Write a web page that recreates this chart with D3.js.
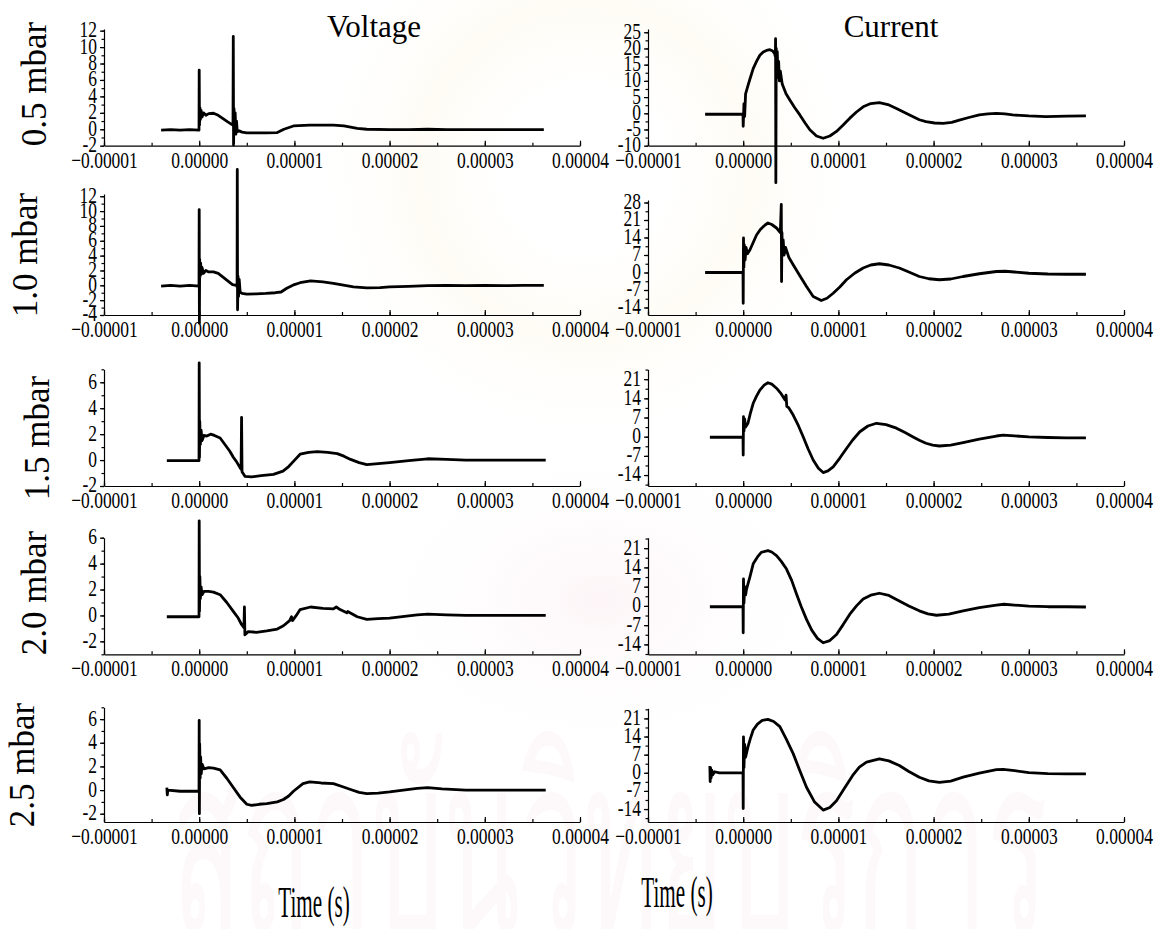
<!DOCTYPE html>
<html>
<head>
<meta charset="utf-8">
<script src="https://cdn.jsdelivr.net/npm/d3@7/dist/d3.min.js"></script>
<style>
    body { margin: 0; background: #fff; }
    svg { display: block; }
    text { font-family: "Liberation Serif", "Times New Roman", serif; fill: #000; }
</style>
</head>
<body>
<svg id="chart" width="1162" height="929"></svg>
<script>
    // time in microseconds, shown on the axis in seconds
    var timeTicks = [-10, 0, 10, 20, 30, 40];
    var pressures = ["0.5 mbar", "1.0 mbar", "1.5 mbar", "2.0 mbar", "2.5 mbar"];
    var columnTitles = ["Voltage", "Current"];

    // voltage traces [t (us), V]
    var voltage05 = [[-4, -0.1], [-3, -0.05], [-2, -0.1], [-1, -0.05], [-0.02, -0.1], [0, 7.2], [0.03, 0.5], [0.08, 2.6], [0.13, 1.2], [0.2, 2.3], [0.3, 1.5], [0.45, 2.0], [0.7, 1.7], [1.0, 1.9], [1.5, 1.95], [2.0, 1.7], [2.5, 1.3], [3.0, 0.9], [3.4, 0.6], [3.55, 0.5], [3.58, 11.3], [3.61, -1.9], [3.66, 2.5], [3.72, -0.6], [3.78, 2.0], [3.85, -0.6], [3.92, 1.0], [4.0, -0.3], [4.2, -0.2], [4.5, -0.35], [5, -0.45], [6, -0.45], [7, -0.45], [8.2, -0.4], [8.9, 0], [9.9, 0.4], [11.6, 0.5], [13, 0.5], [14.1, 0.5], [15.2, 0.4], [16.6, 0.1], [17.6, 0], [20, -0.05], [22, -0.05], [24, 0], [26, -0.05], [28, -0.05], [30, -0.05], [32, -0.05], [34, -0.05], [36.2, -0.05]];
    var voltage10 = [[-4, -0.1], [-3, 0], [-2, -0.1], [-1, 0], [-0.02, -0.1], [0, 10.2], [0.02, -5.1], [0.05, 3.5], [0.1, 1.2], [0.15, 3.0], [0.22, 1.5], [0.3, 2.4], [0.45, 1.6], [0.7, 2.0], [1.0, 1.8], [1.5, 1.8], [2.0, 1.6], [2.5, 1.1], [3.0, 0.6], [3.5, 0.1], [3.9, 0], [3.98, -0.2], [4.0, 15.6], [4.03, -3.3], [4.08, 1.2], [4.13, -1.5], [4.2, 0.8], [4.3, -0.9], [4.5, -1.1], [5, -1.2], [6, -1.15], [7, -1.1], [8, -1.0], [8.6, -0.9], [9.2, -0.4], [10, 0.1], [10.6, 0.35], [11.7, 0.6], [13, 0.45], [14.1, 0.25], [15, 0.05], [16.2, -0.2], [17.6, -0.35], [19, -0.3], [20, -0.2], [22, -0.15], [24, -0.05], [26, 0], [28, -0.05], [30, 0], [32, -0.05], [34, 0], [36.2, 0]];
    var voltage15 = [[-3.4, -0.05], [-2, -0.05], [-1, -0.05], [-0.02, -0.05], [0, 7.5], [0.03, 0.2], [0.06, 3.0], [0.12, 1.2], [0.2, 2.3], [0.3, 1.5], [0.5, 1.9], [0.8, 1.85], [1.2, 2.0], [1.6, 1.9], [2.2, 1.7], [2.7, 1.2], [3.2, 0.7], [3.6, 0.2], [3.9, -0.1], [4.3, -0.6], [4.4, -0.7], [4.45, 3.3], [4.5, -0.9], [4.8, -1.25], [5.5, -1.3], [6.5, -1.2], [7.8, -1.1], [8.8, -0.85], [9.4, -0.5], [9.9, -0.1], [10.6, 0.45], [11.5, 0.6], [12.4, 0.65], [13.5, 0.6], [14.5, 0.5], [15.2, 0.3], [15.9, 0.05], [16.8, -0.2], [17.6, -0.35], [18.5, -0.3], [20, -0.2], [22, -0.05], [24, 0.1], [26, 0.05], [28, 0], [30, 0], [32, 0], [34, 0], [36.4, 0]];
    var voltage20 = [[-3.4, -0.1], [-2, -0.1], [-1, -0.1], [-0.02, -0.1], [0, 7.3], [0.03, 0.3], [0.07, 3.0], [0.12, 1.3], [0.2, 2.2], [0.3, 1.6], [0.5, 1.85], [1.0, 1.85], [1.5, 1.8], [2.2, 1.6], [2.9, 1.0], [3.6, 0.3], [4.1, -0.2], [4.45, -0.7], [4.7, -0.95], [4.75, 0.65], [4.8, -1.5], [5.15, -1.25], [6, -1.3], [7.1, -1.2], [8.2, -1.05], [8.85, -0.8], [9.5, -0.4], [9.7, -0.1], [9.8, -0.4], [10.2, 0], [10.6, 0.45], [11.7, 0.65], [13, 0.55], [14.1, 0.5], [14.4, 0.65], [14.8, 0.45], [15.5, 0.2], [15.6, 0.3], [16.6, -0.1], [17.6, -0.3], [18.8, -0.25], [20, -0.2], [22.9, 0.05], [24, 0.1], [26, 0.05], [28, 0], [30, 0], [32, 0], [34, 0], [36.4, 0]];
    var voltage25 = [[-3.4, 0.2], [-3.35, -0.4], [-3.3, 0], [-2, -0.1], [-1, -0.1], [-0.02, -0.1], [0, 5.9], [0.02, -2.0], [0.05, 3.9], [0.1, 1.0], [0.15, 2.8], [0.22, 1.4], [0.3, 2.2], [0.5, 1.8], [1.0, 1.9], [1.5, 1.85], [2.2, 1.7], [2.9, 1.0], [3.6, 0.2], [4.3, -0.6], [5, -1.2], [5.5, -1.3], [6.3, -1.2], [7.1, -1.15], [8.2, -1.0], [8.85, -0.8], [9.4, -0.5], [9.9, -0.1], [10.9, 0.55], [11.6, 0.7], [12.8, 0.6], [14.1, 0.55], [15, 0.3], [15.9, 0.05], [16.8, -0.2], [17.6, -0.3], [18.8, -0.25], [20, -0.15], [22.9, 0.15], [24, 0.2], [25.5, 0.1], [28, 0], [30, 0], [32, 0], [34, 0], [36.4, 0]];

    // current traces [t (us), I]
    var current05 = [[-4, -0.3], [-3, -0.3], [-2, -0.3], [-1, -0.3], [-0.02, -0.3], [0, -4], [0.08, 3], [0.15, -1], [0.25, 6], [0.35, 7], [0.5, 8.5], [0.7, 10.5], [1.05, 13.8], [1.4, 16], [1.75, 17.9], [2.1, 18.9], [2.45, 19.4], [2.8, 19.6], [3.1, 19.2], [3.3, 18.4], [3.38, 17.5], [3.4, 23], [3.43, -21.4], [3.47, 20], [3.52, 12], [3.58, 19], [3.65, 11], [3.72, 16], [3.8, 10], [3.9, 13], [4.1, 9], [4.5, 6], [4.9, 4.1], [5.4, 1.8], [5.95, -0.5], [6.5, -3], [7, -5.1], [7.7, -7], [8.4, -7.7], [9.1, -7], [9.8, -5.6], [10.5, -3.6], [11.2, -1.5], [11.9, 0.4], [12.6, 2.0], [13.4, 3.0], [14.3, 3.3], [15.2, 2.7], [16.1, 1.5], [17, 0.2], [17.8, -1], [18.5, -2], [19.2, -2.6], [20.1, -3], [21, -3.1], [21.9, -2.8], [22.7, -2.1], [23.7, -1.3], [24.8, -0.5], [25.7, -0.2], [26.6, 0], [27.5, -0.2], [28.3, -0.5], [30, -0.8], [31.8, -1], [34, -0.9], [36, -0.8]];
    var current10 = [[-4, 0], [-3, 0], [-2, 0], [-1, 0], [-0.02, 0], [0, -12.3], [0.03, 13.8], [0.07, 2], [0.12, 11], [0.2, 5], [0.3, 10], [0.45, 7.5], [0.7, 9], [1.05, 12], [1.4, 15], [1.8, 17.2], [2.3, 19], [2.6, 19.8], [3.0, 19.2], [3.5, 17.8], [3.9, 16], [4.0, 27.2], [4.03, -3.6], [4.07, 16], [4.12, 8], [4.2, 13], [4.3, 7], [4.45, 10], [4.8, 6], [5.25, 3.1], [5.95, -1.3], [6.65, -5.6], [7.35, -9.6], [8.2, -11.2], [8.8, -10.3], [9.45, -8.3], [10.15, -5.8], [10.85, -2.9], [11.7, -0.3], [12.6, 1.8], [13.4, 3.0], [14.3, 3.5], [15.3, 3.0], [16.4, 1.8], [17.4, 0.2], [18.5, -1.6], [19.5, -2.5], [20.6, -2.9], [21.8, -2.6], [23.1, -1.6], [24.8, -0.5], [26.6, 0.4], [27.5, 0.5], [28.5, 0.2], [30, -0.3], [32, -0.6], [34, -0.7], [36, -0.7]];
    var current15 = [[-3.5, -0.2], [-2, -0.2], [-1, -0.2], [-0.02, -0.2], [0, -6.7], [0.03, 7.3], [0.08, 2], [0.15, 6.5], [0.25, 3.5], [0.5, 4.9], [0.75, 8.5], [1.05, 12.2], [1.4, 14.8], [1.75, 17], [2.2, 18.8], [2.6, 19.7], [3.0, 19.2], [3.5, 17.7], [4.0, 15.6], [4.4, 13.4], [4.5, 15.2], [4.58, 11.1], [4.8, 10.5], [5.25, 7.9], [5.8, 4], [6.3, 0], [6.8, -4.3], [7.35, -8.5], [7.9, -11.5], [8.4, -13.1], [8.9, -12.5], [9.45, -11], [10.15, -7.8], [10.85, -4.3], [11.5, -1.2], [12.25, 1.8], [13.1, 3.9], [14, 4.9], [15, 4.4], [16.1, 3.1], [17, 1.5], [17.8, 0], [18.5, -1.3], [19.2, -2.4], [19.9, -3.1], [20.6, -3.4], [21.8, -3.1], [23.1, -2.2], [24.8, -0.9], [26.6, 0.25], [27.3, 0.6], [28.5, 0.3], [30, -0.1], [32, -0.3], [34, -0.4], [36, -0.4]];
    var current20 = [[-3.5, -0.3], [-2, -0.3], [-1, -0.3], [-0.02, -0.3], [0, -9.8], [0.03, 9.8], [0.08, 1], [0.15, 7], [0.25, 4], [0.35, 6.1], [0.7, 10.5], [1.05, 15.3], [1.5, 17.8], [1.9, 19.5], [2.6, 20.1], [3.0, 19.6], [3.5, 18.3], [4.0, 16.2], [4.55, 13.4], [5.1, 9.2], [5.6, 4.3], [6.1, -0.3], [6.65, -4.9], [7.2, -8.8], [7.8, -11.8], [8.4, -13.4], [9.1, -12.6], [9.8, -10.4], [10.5, -6.8], [11.2, -3], [11.9, 0], [12.6, 2.5], [13.4, 3.9], [14.3, 4.6], [15.3, 3.8], [16.4, 1.8], [17.4, 0], [18.5, -1.8], [19.4, -2.9], [20.3, -3.4], [21.6, -3], [23.1, -1.8], [24.8, -0.6], [26.6, 0.25], [27.4, 0.6], [28.5, 0.3], [30, -0.1], [32, -0.3], [34, -0.3], [36, -0.4]];
    var current25 = [[-3.5, 2.6], [-3.47, -3.4], [-3.42, 1.8], [-3.37, -2], [-3.3, 1], [-3.2, -0.8], [-3.0, 0.4], [-2.5, 0], [-1, 0], [-0.02, 0], [0, -13.8], [0.03, 13.9], [0.08, 2], [0.15, 11], [0.25, 6], [0.5, 10], [0.75, 13.2], [1.05, 16.5], [1.5, 18.8], [2.0, 20.2], [2.6, 20.6], [3.2, 19.8], [3.85, 17.8], [4.5, 13.2], [5.25, 7.4], [5.95, 0.8], [6.65, -5.6], [7.5, -11.3], [8.4, -14.4], [9.1, -13.4], [9.8, -10.8], [10.6, -6.2], [11.5, -1], [12.2, 2.2], [12.95, 4.1], [14.3, 5.4], [15.3, 4.6], [16.4, 2.8], [17.4, 0.5], [18.5, -1.7], [19.5, -3.1], [20.6, -3.7], [21.8, -3.2], [23.1, -1.7], [24.8, -0.1], [26.6, 1.2], [27.3, 1.3], [28.5, 0.8], [30, 0.1], [32, -0.3], [34, -0.4], [36, -0.4]];

    var voltageTraces = [voltage05, voltage10, voltage15, voltage20, voltage25];
    var currentTraces = [current05, current10, current15, current20, current25];

    // axis ranges and steps per row
    var voltageDomains = [[-2, 12.2], [-4, 12.3], [-2, 7], [-3, 6], [-2.7, 7]];
    var currentDomains = [[-10, 26], [-17, 29], [-18, 24.6], [-17.6, 24.8], [-19, 24.9]];
    var voltageSteps = [2, 2, 2, 2, 2];
    var currentSteps = [5, 7, 7, 7, 7];

    // layout (pixels)
    var leftX = [104, 580], rightX = [648, 1124];
    var voltageRanges = [[145.7, 29], [315, 194], [486, 369.3], [654.3, 537.7], [822, 707.3]];
    var currentRanges = [[145.7, 29], [315, 200], [486, 369.3], [654.3, 537.7], [822, 708.3]];
    var rowLabelPos = [[34, 84], [25, 255], [37, 438], [34, 593], [22, 765]];

    var svg = d3.select("#chart");

    // faint background watermark
    var defs = svg.append("defs");
    var glow = defs.append("radialGradient").attr("id", "glow");
    glow.append("stop").attr("offset", "0%").attr("stop-color", "#ffffff");
    glow.append("stop").attr("offset", "30%").attr("stop-color", "#ffffff");
    glow.append("stop").attr("offset", "60%").attr("stop-color", "#fefcf5");
    glow.append("stop").attr("offset", "100%").attr("stop-color", "#ffffff").attr("stop-opacity", 0);
    var pink = defs.append("radialGradient").attr("id", "pink");
    pink.append("stop").attr("offset", "0%").attr("stop-color", "#fdf5f7");
    pink.append("stop").attr("offset", "100%").attr("stop-color", "#ffffff").attr("stop-opacity", 0);
    svg.append("circle").attr("cx", 585).attr("cy", 170).attr("r", 280).attr("fill", "url(#glow)");
    svg.append("ellipse").attr("cx", 600).attr("cy", 600).attr("rx", 240).attr("ry", 160).attr("fill", "url(#pink)");
    svg.append("text")
        .attr("transform", "translate(610,932) scale(0.45,1)")
        .attr("text-anchor", "middle")
        .style("font-family", "'Noto Sans', 'DejaVu Sans', sans-serif")
        .style("font-size", "250px")
        .style("fill", "#fdf8fa")
        .text("สถาบันวิทยบริการ");

    var tickFont = 17.5, stretch = 1.33;
    var timeFormat = function (d) { return d3.format(".5f")(d * 1e-6); };

    function stepTicks(domain, step) {
        var start = Math.ceil(domain[0] / step - 1e-9) * step;
        return d3.range(start, domain[1] + 1e-9, step);
    }

    function drawPanel(data, xRange, domain, yRange, step) {
        var x = d3.scaleLinear().domain([-10, 40]).range(xRange),
            y = d3.scaleLinear().domain(domain).range(yRange),
            g = svg.append("g");

        // x axis: ticks point up into the plot
        g.append("g")
            .attr("transform", "translate(0," + yRange[0] + ")")
            .call(d3.axisBottom(x).tickValues(d3.range(-10, 41, 5)).tickSize(-3).tickSizeOuter(0).tickFormat(""))
            .call(function (a) { a.select(".domain").remove(); });
        var xa = g.append("g")
            .attr("transform", "translate(0," + yRange[0] + ")")
            .call(d3.axisBottom(x).tickValues(timeTicks).tickSize(-5).tickSizeOuter(0).tickFormat(timeFormat));

        // y axis: ticks point outward
        g.append("g")
            .attr("transform", "translate(" + xRange[0] + ",0)")
            .call(d3.axisLeft(y).tickValues(stepTicks(domain, step / 2)).tickSize(2.5).tickSizeOuter(0).tickFormat(""))
            .call(function (a) { a.select(".domain").remove(); });
        var ya = g.append("g")
            .attr("transform", "translate(" + xRange[0] + ",0)")
            .call(d3.axisLeft(y).tickValues(stepTicks(domain, step)).tickSize(4).tickSizeOuter(0).tickFormat(function (d) { return String(d); }));

        g.selectAll(".domain, .tick line").attr("stroke", "#000").attr("stroke-width", 1.2);
        xa.selectAll("text").attr("y", 4).attr("dy", "0.71em");
        // keep the y labels centred on their ticks after the vertical stretch
        ya.selectAll("text").attr("x", -7).attr("y", 0).attr("dy", (0.34 / stretch) + "em");
        g.selectAll(".tick text")
            .style("font-family", "'Liberation Serif', serif")
            .style("font-size", tickFont + "px")
            .attr("fill", "#000")
            .attr("transform", "scale(1," + stretch + ")");

        g.append("path")
            .datum(data)
            .attr("fill", "none")
            .attr("stroke", "#000")
            .attr("stroke-width", 2.8)
            .attr("stroke-linejoin", "round")
            .attr("d", d3.line()
                .x(function (d) { return x(d[0]); })
                .y(function (d) { return y(d[1]); }));
    }

    pressures.forEach(function (p, i) {
        drawPanel(voltageTraces[i], leftX, voltageDomains[i], voltageRanges[i], voltageSteps[i]);
        drawPanel(currentTraces[i], rightX, currentDomains[i], currentRanges[i], currentSteps[i]);

        svg.append("text")
            .attr("transform", "translate(" + rowLabelPos[i][0] + "," + rowLabelPos[i][1] + ") rotate(-90)")
            .attr("text-anchor", "middle")
            .attr("dy", "0.34em")
            .style("font-size", "35px")
            .text(p);
    });

    // column titles
    svg.append("text").attr("x", 374).attr("y", 37).attr("text-anchor", "middle").style("font-size", "31px").text(columnTitles[0]);
    svg.append("text").attr("x", 891).attr("y", 37).attr("text-anchor", "middle").style("font-size", "31px").text(columnTitles[1]);

    // x titles, narrow and tall as in the original
    [[314, 917], [677, 907]].forEach(function (pos) {
        svg.append("text")
            .attr("transform", "translate(" + pos[0] + "," + pos[1] + ") scale(0.48,1)")
            .attr("text-anchor", "middle")
            .style("font-size", "44px")
            .text("Time (s)");
    });
</script>
</body>
</html>
